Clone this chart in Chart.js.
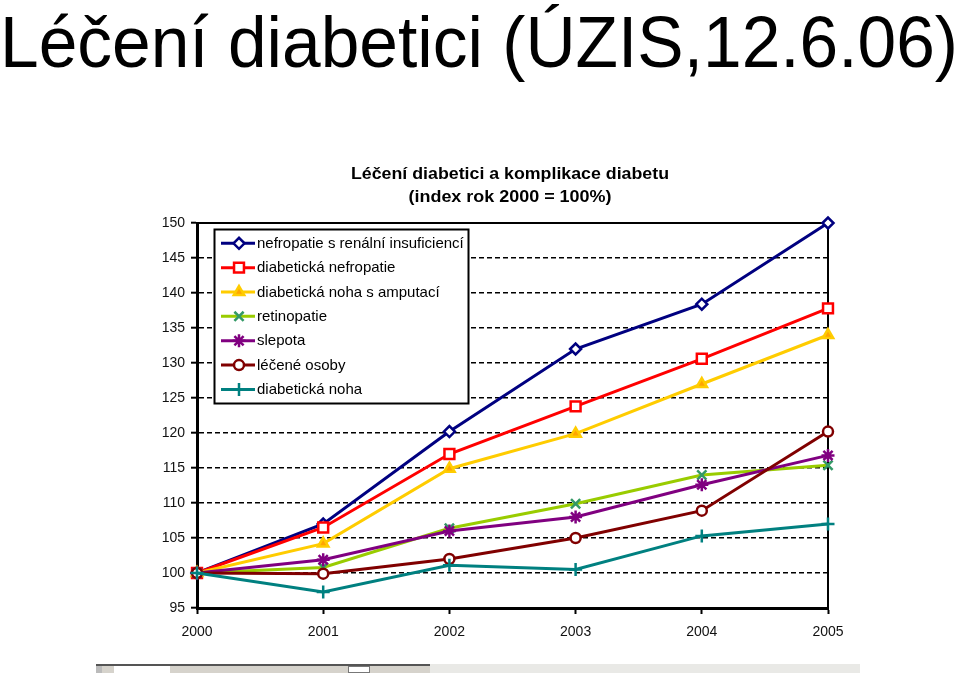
<!DOCTYPE html>
<html>
<head>
<meta charset="utf-8">
<script src="https://cdn.jsdelivr.net/npm/chart.js@4.4.0/dist/chart.umd.min.js"></script>
<style>
html,body{margin:0;padding:0;background:#fff;width:960px;height:673px;overflow:hidden;}
body{position:relative;font-family:"Liberation Sans",Arial,Helvetica,sans-serif;color:#000;}
#wrap{position:absolute;left:0;top:0;width:960px;height:673px;}
#heading{position:absolute;left:0;top:6px;font-size:72px;line-height:72px;white-space:nowrap;transform-origin:0 0;}
.ct{position:absolute;left:510px;font-size:16px;line-height:16px;font-weight:bold;white-space:nowrap;color:#000;}
#ct1{top:166px;}
#ct2{top:188.5px;}
.strip{position:absolute;}
</style>
</head>
<body>
<div id="wrap"><canvas id="c" width="960" height="673"></canvas></div>
<div id="heading">Léčení diabetici (ÚZIS,12.6.06)</div>
<div class="ct" id="ct1">Léčení diabetici a komplikace diabetu</div>
<div class="ct" id="ct2">(index rok 2000 = 100%)</div>
<div class="strip" style="left:96px;top:664px;width:334px;height:9px;background:#d6d3cc;border-top:2px solid #555;box-sizing:border-box;"></div>
<div class="strip" style="left:114px;top:666px;width:56px;height:7px;background:#fff;"></div>
<div class="strip" style="left:96px;top:666px;width:6px;height:7px;background:#bbb;"></div>
<div class="strip" style="left:348px;top:666px;width:22px;height:7px;background:#fff;border:1px solid #777;box-sizing:border-box;"></div>
<div class="strip" style="left:430px;top:664px;width:430px;height:9px;background:#e9e9e6;"></div>
<script>
// ---- data ----
const years = ['2000', '2001', '2002', '2003', '2004', '2005'];
const seriesNames = [
  'nefropatie s renální insuficiencí',
  'diabetická nefropatie',
  'diabetická noha s amputací',
  'retinopatie',
  'slepota',
  'léčené osoby',
  'diabetická noha'
];
const nefropatieRenal = [100, 107.0, 120.2, 132.0, 138.4, 150.0];
const diabNefropatie  = [100, 106.5, 117.0, 123.8, 130.6, 137.8];
const nohaAmputace    = [100, 104.2, 114.9, 119.9, 127.0, 134.0];
const retinopatie     = [100, 100.8, 106.4, 109.9, 114.0, 115.4];
const slepota         = [100, 101.9, 106.0, 108.0, 112.6, 116.8];
const leceneOsoby     = [100, 99.9, 102.0, 105.0, 108.9, 120.2];
const diabNoha        = [100, 97.3, 101.1, 100.5, 105.3, 107.0];
const yTicks = [95, 100, 105, 110, 115, 120, 125, 130, 135, 140, 145, 150];

// ---- title fitting ----
(function(){
  const h = document.getElementById('heading');
  const w = h.getBoundingClientRect().width;
  h.style.transform = 'scaleX(' + (958 / w) + ')';
  const fit = (id, target) => {
    const el = document.getElementById(id);
    const ww = el.getBoundingClientRect().width;
    el.style.transform = 'translateX(-50%) scaleX(' + (target / ww) + ')';
  };
  fit('ct1', 318);
  fit('ct2', 203);
})();

const styles = [
  {line:'#000080', pt:'rectRot', r:5.5, fill:'#ffffff', stroke:'#000080'},
  {line:'#ff0000', pt:'rect',    r:7,   fill:'#ffffff', stroke:'#ff0000'},
  {line:'#ffcc00', pt:'triangle',r:6,   fill:'#ffa500', stroke:'#ffcc00'},
  {line:'#99cc00', pt:'crossRot',r:6.5, fill:'#339966', stroke:'#339966'},
  {line:'#800080', pt:'star',    r:6.5, fill:'#800080', stroke:'#800080'},
  {line:'#800000', pt:'circle',  r:5,   fill:'#ffffff', stroke:'#800000'},
  {line:'#008080', pt:'cross',   r:6.5, fill:'#008080', stroke:'#008080'}
];
const allData = [nefropatieRenal, diabNefropatie, nohaAmputace, retinopatie, slepota, leceneOsoby, diabNoha];

const datasets = allData.map((d, i) => ({
  label: seriesNames[i],
  data: d,
  borderColor: styles[i].line,
  backgroundColor: styles[i].fill,
  borderWidth: 3,
  tension: 0,
  fill: false,
  clip: false,
  pointStyle: styles[i].pt,
  pointRadius: styles[i].r,
  pointHoverRadius: styles[i].r,
  pointBorderWidth: 2.5,
  pointBorderColor: styles[i].stroke,
  pointBackgroundColor: styles[i].fill,
  order: allData.length - i
}));

const frame = {
  id: 'frame',
  beforeDatasetsDraw(chart) {
    const {ctx, chartArea: a} = chart;
    ctx.save();
    ctx.strokeStyle = '#000';
    ctx.lineWidth = 2;
    ctx.beginPath();
    ctx.moveTo(a.left, a.top);
    ctx.lineTo(a.right, a.top);
    ctx.lineTo(a.right, a.bottom);
    ctx.stroke();
    ctx.restore();
  }
};

const boxLegend = {
  id: 'boxLegend',
  afterDraw(chart) {
    const ctx = chart.ctx;
    ctx.save();
    ctx.fillStyle = '#fff';
    ctx.fillRect(214.5, 229.5, 254, 174);
    ctx.strokeStyle = '#000';
    ctx.lineWidth = 2;
    ctx.strokeRect(214.5, 229.5, 254, 174);
    const items = chart.data.datasets.slice();
    items.forEach((ds, i) => {
      const y = 243.3 + i * 24.35;
      ctx.strokeStyle = ds.borderColor;
      ctx.lineWidth = 3;
      ctx.beginPath();
      ctx.moveTo(221, y);
      ctx.lineTo(255, y);
      ctx.stroke();
      ctx.fillStyle = ds.pointBackgroundColor;
      ctx.strokeStyle = ds.pointBorderColor;
      ctx.lineWidth = 2.5;
      Chart.helpers.drawPoint(ctx, {pointStyle: ds.pointStyle, radius: ds.pointRadius, borderWidth: 2.5, rotation: 0}, 239, y);
      ctx.fillStyle = '#000';
      ctx.font = '15px "Liberation Sans", Arial, sans-serif';
      ctx.textBaseline = 'middle';
      ctx.textAlign = 'left';
      ctx.fillText(ds.label, 257, y + 0.5);
    });
    ctx.restore();
  }
};

new Chart(document.getElementById('c'), {
  type: 'line',
  data: { labels: years, datasets },
  options: {
    responsive: false,
    animation: false,
    events: [],
    layout: { padding: { left: 0, top: 223, right: 132, bottom: 0 } },
    plugins: { legend: { display: false }, title: { display: false }, tooltip: { enabled: false } },
    scales: {
      x: {
        type: 'category',
        offset: false,
        grid: { drawOnChartArea: false, drawTicks: true, tickLength: 6, tickColor: '#000', tickWidth: 2 },
        border: { display: true, color: '#000', width: 3 },
        ticks: { color: '#111', padding: 10, font: { family: '"Liberation Sans", Arial, sans-serif', size: 14 }, maxRotation: 0, autoSkip: false },
        afterFit(s) { s.height = 65; }
      },
      y: {
        min: 95, max: 150,
        afterBuildTicks(s) { s.ticks = yTicks.map(v => ({ value: v })); },
        grid: {
          drawOnChartArea: true, drawTicks: true, tickLength: 6, tickWidth: 2, tickColor: '#000',
          color: (c) => (c.tick && (c.tick.value === 95 || c.tick.value === 150)) ? 'rgba(0,0,0,0)' : '#000',
          lineWidth: 1.4
        },
        border: { display: true, color: '#000', width: 3, dash: [5, 3] },
        ticks: { color: '#111', padding: 6, font: { family: '"Liberation Sans", Arial, sans-serif', size: 14 } },
        afterFit(s) { s.width = 197; }
      }
    }
  },
  plugins: [frame, boxLegend]
});
</script>
</body>
</html>
